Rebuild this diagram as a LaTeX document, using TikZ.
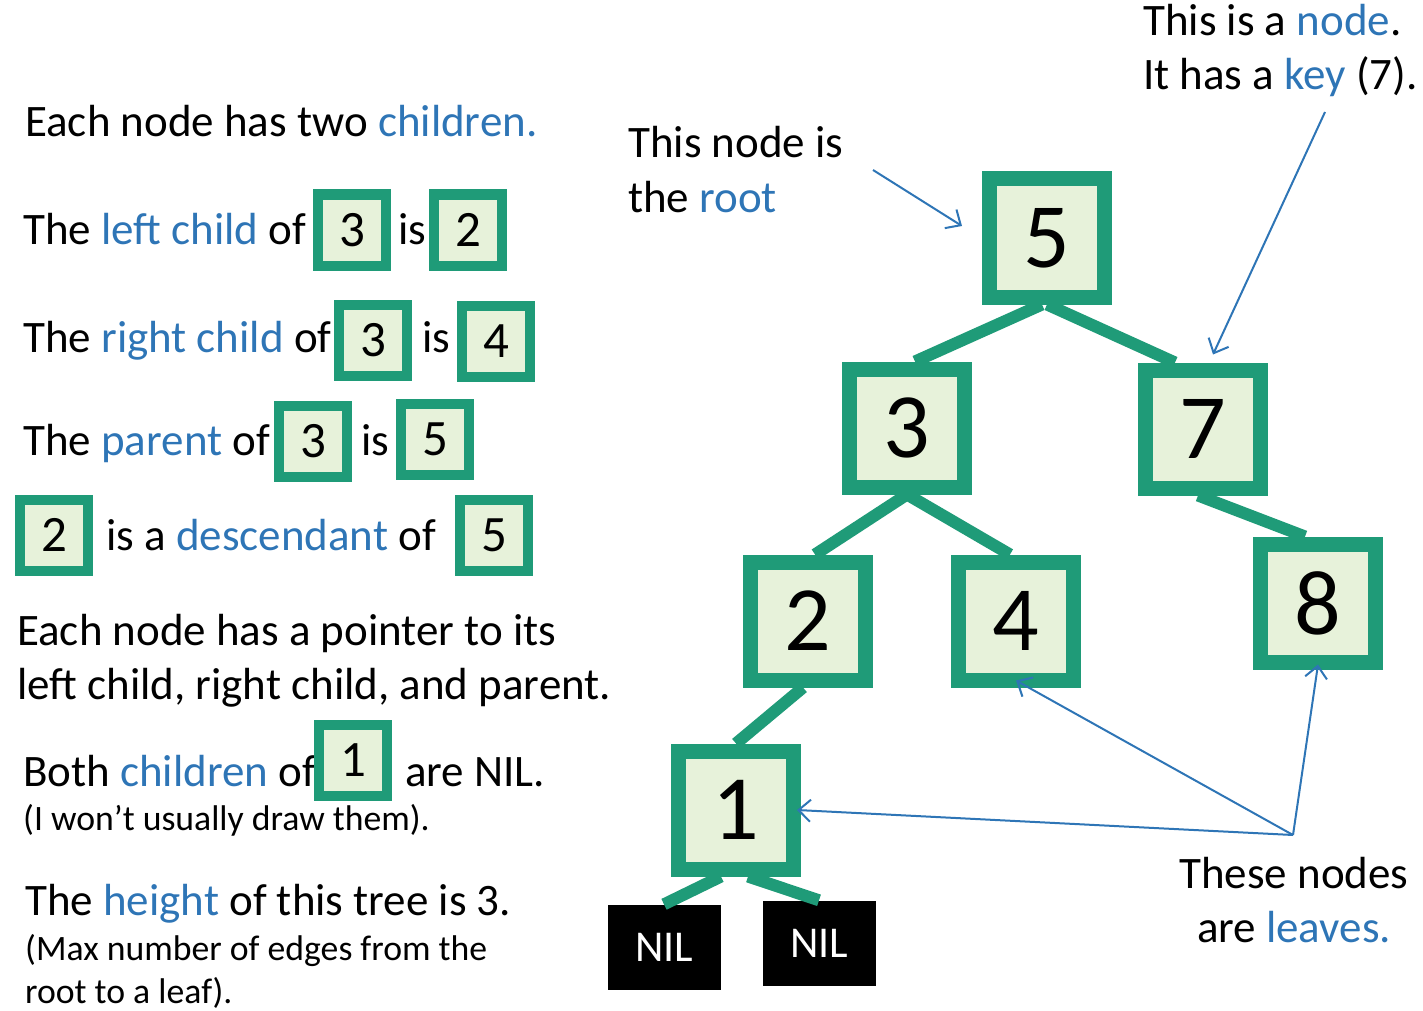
\documentclass[tikz,border=0pt]{standalone}
\usepackage{fontspec}
\setmainfont{Carlito}
\usepackage{xcolor}
\usepackage{tikz}
\usetikzlibrary{arrows.meta, positioning, calc}

\definecolor{treegreen}{RGB}{31,155,120}
\definecolor{keyfill}{RGB}{231,242,218}
\definecolor{termblue}{RGB}{46,117,182}

\newcommand{\term}[1]{\textcolor{termblue}{#1}}

\tikzset{
  keybox/.style={draw=treegreen, line width=10pt, fill=keyfill, minimum width=68pt, minimum height=71pt, inner sep=0pt, font=\fontsize{51}{51}\selectfont},
  treenode/.style={draw=treegreen, line width=15pt, fill=keyfill, minimum width=115pt, minimum height=118pt, inner sep=0pt, font=\fontsize{92}{92}\selectfont},
  nilbox/.style={fill=black, text=white, minimum width=113pt, minimum height=85pt, inner sep=0pt, font=\fontsize{44}{44}\selectfont},
  branch/.style={treegreen, line width=12pt},
  pointer/.style={termblue, line width=2pt, -{Straight Barb[length=12pt,width=22pt]}},
  txt/.style={anchor=base west, inner sep=0pt, font=\fontsize{45}{54}\selectfont},
  note/.style={anchor=base west, inner sep=0pt, font=\fontsize{35.7}{43}\selectfont},
}

\begin{document}
\begin{tikzpicture}[x=1pt, y=-1pt]
    \useasboundingbox (0,0) rectangle (1423,1011);

    % terminology on the left
    \node[txt] (intro) at (25,137) {Each node has two \term{children.}};
    \node[txt] (leftl) at (23,244) {The \term{left child} of};
    \node[txt] (leftis) at (398,244) {is};
    \node[txt] (rightl) at (23,352) {The \term{right child} of};
    \node[txt] (rightis) at (422,352) {is};
    \node[txt] (parl) at (23,455) {The \term{parent} of};
    \node[txt] (paris) at (361,455) {is};
    \node[txt] (descl) at (106,550) {is a \term{descendant} of};
    \node[txt] (ptrA) at (17,645) {Each node has a pointer to its};
    \node[txt] (ptrB) at (17,699) {left child, right child, and parent.};
    \node[txt] (bothl) at (23,786) {Both \term{children} of};
    \node[txt] (bothr) at (405,786) {are NIL.};
    \node[note] (bothn) at (23,830) {(I won’t usually draw them).};
    \node[txt] (heightl) at (25,915) {The \term{height} of this tree is 3.};
    \node[note] (heightA) at (25,960) {(Max number of edges from the};
    \node[note] (heightB) at (25,1003) {root to a leaf).};

    \node[keybox] (lcA) at (352,230) {3};
    \node[keybox] (lcB) at (468,230) {2};
    \node[keybox] (rcA) at (373,340) {3};
    \node[keybox] (rcB) at (496,341) {4};
    \node[keybox] (paA) at (313,441) {3};
    \node[keybox] (paB) at (435,439) {5};
    \node[keybox] (deA) at (54,535) {2};
    \node[keybox] (deB) at (494,535) {5};
    \node[keybox] (boA) at (353,760) {1};

    % the tree
    \node[treenode] (n5) at (1047,238) {5};
    \node[treenode] (n3) at (907,428) {3};
    \node[treenode] (n7) at (1203,429) {7};
    \node[treenode] (n2) at (808,621) {2};
    \node[treenode] (n4) at (1016,621) {4};
    \node[treenode] (n8) at (1318,603) {8};
    \node[treenode] (n1) at (736,810) {1};
    \node[nilbox] (nilA) at (664,947) {NIL};
    \node[nilbox] (nilB) at (819,943) {NIL};

    \draw[branch] ([xshift=-5pt]n5.south) -- ([xshift=8pt]n3.north);
    \draw[branch] (n5.south) -- ([xshift=-28pt]n7.north);
    \draw[branch] (n3.south) -- ([xshift=7pt]n2.north);
    \draw[branch] (n3.south) -- ([xshift=-6pt]n4.north);
    \draw[branch] ([xshift=-5pt]n7.south) -- ([xshift=-13pt]n8.north);
    \draw[branch] ([xshift=-5pt]n2.south) -- (n1.north);
    \draw[branch] ([xshift=-15pt]n1.south) -- (nilA.north);
    \draw[branch] ([xshift=12pt]n1.south) -- (nilB.north);

    % notes on the right
    \node[txt] (rootA) at (628,158) {This node is};
    \node[txt] (rootB) at (628,212) {the \term{root}};
    \node[txt] (keyA) at (1143,36) {This is a \term{node}.};
    \node[txt] (keyB) at (1143,90) {It has a \term{key} (7).};
    \node[txt, anchor=base] (leafA) at (1294,888) {These nodes};
    \node[txt, anchor=base] (leafB) at (1294,942) {are \term{leaves.}};

    \coordinate (rootfrom) at (873,170);
    \coordinate (keyfrom) at (1325,112);
    \coordinate (leaffrom) at (1293,835);

    \draw[pointer] (rootfrom) -- ([shift={(-20pt,12pt)}]n5.west);
    \draw[pointer] (keyfrom) -- ([shift={(10pt,8pt)}]n7.north);
    \draw[pointer] (leaffrom) -- ([yshift=7pt]n4.south);
    \draw[pointer] (leaffrom) -- ([yshift=5pt]n8.south);
    \draw[pointer] (leaffrom) -- ([xshift=-4pt]n1.east);
\end{tikzpicture}
\end{document}
